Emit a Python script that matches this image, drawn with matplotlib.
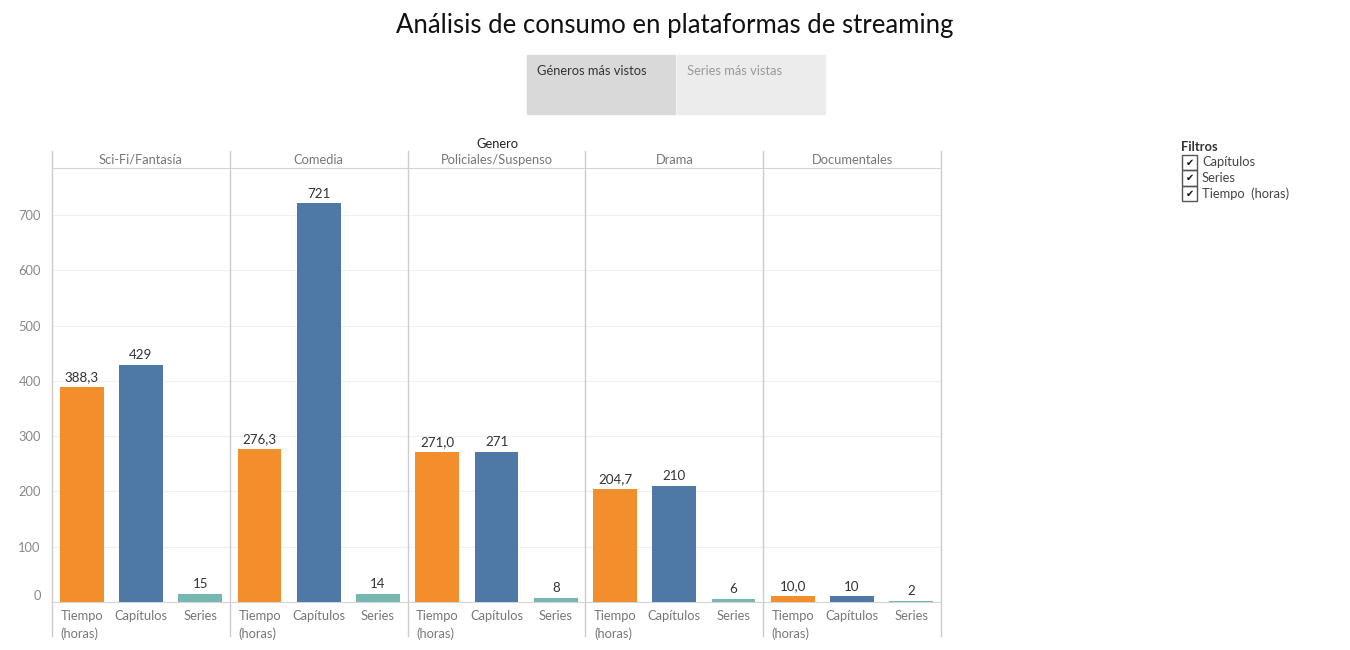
import matplotlib

matplotlib.use("Agg")

import matplotlib.pyplot as plt
import matplotlib.patches as mpatches
import matplotlib.transforms as mtransforms
import numpy as np

generos = ["Sci-Fi/Fantasía", "Comedia", "Policiales/Suspenso", "Drama", "Documentales"]
medidas = ["Tiempo\n(horas)", "Capítulos", "Series"]
tiempo_horas = [388.3, 276.3, 271.0, 204.7, 10.0]
capitulos = [429, 721, 271, 210, 10]
series = [15, 14, 8, 6, 2]
y_ticks = [0, 100, 200, 300, 400, 500, 600, 700]
filtros = ["Capítulos", "Series", "Tiempo  (horas)"]

colores = ["#F28E2B", "#4E79A7", "#76B7B2"]
W, H = 1350, 650
FS = 9.3

plt.rcParams["font.family"] = ["Lato", "DejaVu Sans"]

fig = plt.figure(figsize=(13.5, 6.5), dpi=100)


def px(x, y):
    return x / W, 1 - y / H


ax = fig.add_axes([52 / W, 1 - 602 / H, (941 - 52) / W, (602 - 168) / H])

valores = [tiempo_horas, capitulos, series]
for g in range(len(generos)):
    for m, serie in enumerate(valores):
        xpos = g * 3 + m
        v = serie[g]
        ax.bar(xpos, v, width=0.74, color=colores[m], zorder=3)
        etiqueta = f"{v:.1f}".replace(".", ",") if m == 0 else f"{v:d}"
        ax.text(xpos, v + 7, etiqueta, ha="center", va="bottom",
                fontsize=FS + 0.3, color="#333333")

ax.set_xlim(-0.5, len(generos) * 3 - 0.5)
ax.set_ylim(0, 785)
ax.set_yticks(y_ticks)
ax.set_yticklabels([str(t) for t in y_ticks], color="#888888", fontsize=FS)
ax.tick_params(axis="y", length=0, pad=8)
ax.get_yticklabels()[0].set_va("bottom")
ax.set_xticks(range(len(generos) * 3))
ax.set_xticklabels(medidas * len(generos), color="#777777", fontsize=FS,
                   ha="center", va="top", linespacing=1.5)
ax.tick_params(axis="x", length=0, pad=6)
for lbl in ax.get_xticklabels():
    if lbl.get_text().startswith("Tiempo"):
        lbl.set_ha("left")
        lbl.set_transform(lbl.get_transform() + mtransforms.ScaledTranslation(-0.21, 0, fig.dpi_scale_trans))

ax.grid(axis="y", color="#f0f0f0", linewidth=0.8, zorder=0)
ax.set_axisbelow(True)
for side in ["left", "right"]:
    ax.spines[side].set_visible(False)
ax.spines["top"].set_color("#d4d4d4")
ax.spines["bottom"].set_color("#d4d4d4")

# separadores de paneles
trans = mtransforms.blended_transform_factory(ax.transData, ax.transAxes)
y_top = (602 - 151) / (602 - 168)
y_bot = -(636 - 602) / (602 - 168)
for k in range(len(generos) + 1):
    xs = k * 3 - 0.5
    ax.plot([xs, xs], [y_bot, y_top], color="#cccccc", linewidth=1,
            transform=trans, clip_on=False)
for g, nombre in enumerate(generos):
    ax.text(g * 3 + 1, (602 - 160) / (602 - 168), nombre, transform=trans,
            ha="center", va="center", fontsize=FS, color="#777777")

fig.text(*px(497, 144), "Genero", ha="center", va="center", fontsize=FS, color="#222222")

fig.text(*px(675, 26), "Análisis de consumo en plataformas de streaming",
         ha="center", va="center", fontsize=18.5, color="#111111")

# pestañas
fig.patches.append(mpatches.Rectangle(px(527, 114), 148 / W, 59 / H,
                                      transform=fig.transFigure, color="#d9d9d9"))
fig.patches.append(mpatches.Rectangle(px(677, 114), 148 / W, 59 / H,
                                      transform=fig.transFigure, color="#ececec"))
fig.text(*px(537, 71), "Géneros más vistos", ha="left", va="center",
         fontsize=FS, color="#333333")
fig.text(*px(687, 71), "Series más vistas", ha="left", va="center",
         fontsize=FS, color="#999999")

# filtros
fig.text(*px(1181, 147), "Filtros", ha="left", va="center", fontsize=FS,
         fontweight="bold", color="#333333")
for i, f in enumerate(filtros):
    y0 = 155 + i * 15.5
    fig.patches.append(mpatches.Rectangle(px(1182, y0 + 15), 15 / W, 15 / H,
                                          transform=fig.transFigure, fill=False,
                                          edgecolor="#555555", linewidth=1))
    fig.text(*px(1189.5, y0 + 7.5), "\u2714", ha="center", va="center",
             fontsize=7, color="#111111", family="DejaVu Sans")
    fig.text(*px(1202, y0 + 7.5), f, ha="left", va="center", fontsize=FS,
             color="#444444")

fig.savefig("out.png", dpi=100)
